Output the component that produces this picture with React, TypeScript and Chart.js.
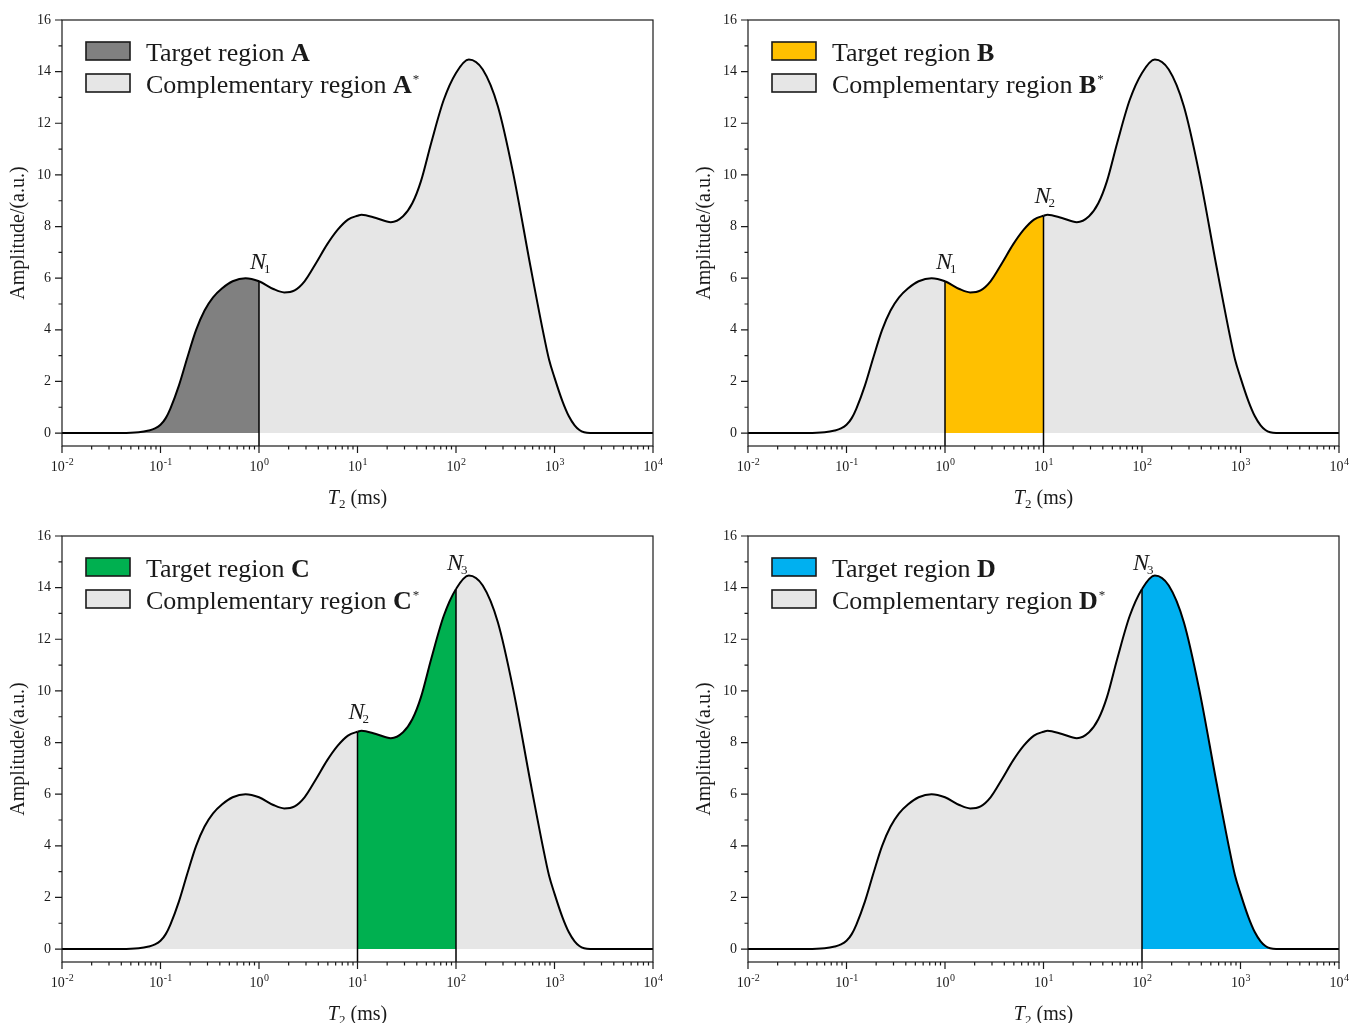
import React, { useEffect, useRef } from 'react';
import { Chart, registerables } from 'chart.js';

Chart.register(...registerables);

// ---- data ----
const T2 = [0.01, 0.04, 0.06, 0.076, 0.088, 0.1, 0.113, 0.126, 0.154, 0.188, 0.23, 0.28, 0.34, 0.42, 0.54, 0.73, 1, 1.4, 1.8, 2.3, 2.9, 3.8, 4.9, 6.3, 8, 10, 11, 15.4, 21.8, 29, 36, 44, 56, 75, 100, 135, 187, 266, 380, 570, 770, 880, 1000, 1200, 1400, 1600, 1790, 2000, 2300, 3000, 10000];
const AMP = [0, 0, 0.03, 0.1, 0.18, 0.32, 0.58, 0.95, 1.85, 2.95, 4.0, 4.75, 5.25, 5.6, 5.88, 6.0, 5.88, 5.58, 5.45, 5.53, 5.88, 6.59, 7.3, 7.88, 8.27, 8.42, 8.46, 8.33, 8.17, 8.4, 8.9, 9.75, 11.24, 12.9, 13.95, 14.47, 14.08, 12.66, 10.08, 6.46, 3.88, 2.85, 2.15, 1.25, 0.65, 0.3, 0.12, 0.03, 0, 0, 0];

const Y_TICKS = [0, 2, 4, 6, 8, 10, 12, 14, 16];
const X_EXPONENTS = [-2, -1, 0, 1, 2, 3, 4];
const Y_MIN = -0.5;
const Y_MAX = 16;

const PANEL_LETTERS = ['A', 'B', 'C', 'D'];
const TARGET_COLORS = ['#808080', '#FFC000', '#00B050', '#00B0F0'];
const REGION_LOW = [0.01, 1, 10, 100];
const REGION_HIGH = [1, 10, 100, 10000];
const PANEL_CUTS = [[1], [1, 10], [10, 100], [100]];

const NODE_NAMES = ['1', '2', '3'];
const NODE_T2 = [1, 10, 100];
const NODE_LABEL_AMP = [6.36, 8.91, 14.69];
const PANEL_NODES = [[0], [0, 1], [1, 2], [2]];

const GREY = '#E6E6E6';
const INK = '#1a1a1a';
const SERIF = '"Liberation Serif", "Times New Roman", serif';

const PANEL_POS = [[0, 0], [686, 0], [0, 516], [686, 516]];

const decorPlugin = {
  id: 'decor',
  afterDraw(chart: any, _args: any, opts: any) {
    const { ctx, chartArea: ca } = chart;
    const x = chart.scales.x;
    const y = chart.scales.y;
    const idx: number = opts.idx;
    ctx.save();
    // frame
    ctx.strokeStyle = INK;
    ctx.lineWidth = 1.2;
    ctx.strokeRect(ca.left, ca.top, ca.right - ca.left, ca.bottom - ca.top);

    // y ticks (major every 2, minor every 1)
    ctx.beginPath();
    for (let v = 0; v <= Y_MAX; v++) {
      const py = y.getPixelForValue(v);
      const len = v % 2 === 0 ? 7 : 3.5;
      ctx.moveTo(ca.left - len, py);
      ctx.lineTo(ca.left, py);
    }
    // x ticks
    X_EXPONENTS.forEach((k, i) => {
      const px = x.getPixelForValue(Math.pow(10, k));
      ctx.moveTo(px, ca.bottom);
      ctx.lineTo(px, ca.bottom + 7);
      if (i < X_EXPONENTS.length - 1) {
        for (let m = 2; m <= 9; m++) {
          const pm = x.getPixelForValue(m * Math.pow(10, k));
          ctx.moveTo(pm, ca.bottom);
          ctx.lineTo(pm, ca.bottom + 3.5);
        }
      }
    });
    ctx.stroke();

    // x tick labels 10^k
    ctx.fillStyle = INK;
    ctx.textBaseline = 'alphabetic';
    ctx.textAlign = 'left';
    X_EXPONENTS.forEach((k) => {
      const px = x.getPixelForValue(Math.pow(10, k));
      ctx.font = `14px ${SERIF}`;
      const w1 = ctx.measureText('10').width;
      const ex = k < 0 ? '-' + Math.abs(k) : String(k);
      ctx.font = `10px ${SERIF}`;
      const w2 = ctx.measureText(ex).width;
      const start = px - (w1 + w2) / 2;
      ctx.font = `14px ${SERIF}`;
      ctx.fillText('10', start, ca.bottom + 25);
      ctx.font = `10px ${SERIF}`;
      ctx.fillText(ex, start + w1 + 0.5, ca.bottom + 19);
    });

    // x title: T2 (ms)
    {
      ctx.font = `italic 20px ${SERIF}`;
      const wT = ctx.measureText('T').width;
      ctx.font = `13px ${SERIF}`;
      const w2 = ctx.measureText('2').width;
      ctx.font = `20px ${SERIF}`;
      const wR = ctx.measureText(' (ms)').width;
      const cx = (ca.left + ca.right) / 2;
      let sx = cx - (wT + w2 + wR) / 2;
      const base = ca.bottom + 58;
      ctx.font = `italic 20px ${SERIF}`;
      ctx.fillText('T', sx, base);
      sx += wT;
      ctx.font = `13px ${SERIF}`;
      ctx.fillText('2', sx, base + 4);
      sx += w2;
      ctx.font = `20px ${SERIF}`;
      ctx.fillText(' (ms)', sx, base);
    }

    // y title
    ctx.save();
    ctx.translate(19, (ca.top + ca.bottom) / 2);
    ctx.rotate(-Math.PI / 2);
    ctx.textAlign = 'center';
    ctx.textBaseline = 'middle';
    ctx.font = `20px ${SERIF}`;
    ctx.fillText('Amplitude/(a.u.)', 0, 0);
    ctx.restore();

    // legend
    const letter = PANEL_LETTERS[idx];
    const boxes = [
      { top: 42, fill: TARGET_COLORS[idx], text: 'Target region ', star: false, base: 61 },
      { top: 74, fill: GREY, text: 'Complementary region ', star: true, base: 93 },
    ];
    boxes.forEach((b) => {
      ctx.fillStyle = b.fill;
      ctx.fillRect(86, b.top, 44, 18);
      ctx.strokeStyle = INK;
      ctx.lineWidth = 1.6;
      ctx.strokeRect(86, b.top, 44, 18);
      ctx.fillStyle = INK;
      ctx.textAlign = 'left';
      ctx.textBaseline = 'alphabetic';
      ctx.font = `26px ${SERIF}`;
      ctx.fillText(b.text, 146, b.base);
      const w = ctx.measureText(b.text).width;
      ctx.font = `bold 26px ${SERIF}`;
      ctx.fillText(letter, 146 + w, b.base);
      const wl = ctx.measureText(letter).width;
      if (b.star) {
        ctx.font = `13px ${SERIF}`;
        ctx.fillText('*', 146 + w + wl + 1, b.base - 10);
      }
    });

    // node labels N_i
    PANEL_NODES[idx].forEach((n) => {
      const px = x.getPixelForValue(NODE_T2[n]) - 1;
      const py = y.getPixelForValue(NODE_LABEL_AMP[n]);
      ctx.font = `italic 24px ${SERIF}`;
      ctx.textAlign = 'center';
      ctx.fillText('N', px, py);
      const wN = ctx.measureText('N').width;
      ctx.textAlign = 'left';
      ctx.font = `13px ${SERIF}`;
      ctx.fillText(NODE_NAMES[n], px + wN / 2 - 2, py + 4);
    });

    ctx.restore();
  },
};

function Panel({ idx }: { idx: number }) {
  const ref = useRef<HTMLCanvasElement>(null);
  const [left, top] = PANEL_POS[idx];
  const W = left === 0 ? 686 : 665;
  const H = top === 0 ? 516 : 507;

  useEffect(() => {
    if (!ref.current) return;
    const lo = REGION_LOW[idx];
    const hi = REGION_HIGH[idx];
    const color = TARGET_COLORS[idx];
    const curve = T2.map((t, i) => ({ x: t, y: AMP[i] }));
    const datasets: any[] = [
      {
        data: curve,
        borderColor: '#000',
        borderWidth: 2,
        pointRadius: 0,
        cubicInterpolationMode: 'monotone',
        fill: 'origin',
        backgroundColor: GREY,
        segment: {
          backgroundColor: (c: any) =>
            T2[c.p0DataIndex] >= lo && T2[c.p1DataIndex] <= hi ? color : GREY,
        },
        order: 1,
      },
    ];
    PANEL_CUTS[idx].forEach((c) => {
      datasets.push({
        data: [
          { x: c, y: AMP[T2.indexOf(c)] },
          { x: c, y: Y_MIN },
        ],
        borderColor: '#000',
        borderWidth: 1.5,
        pointRadius: 0,
        fill: false,
        order: 0,
      });
    });

    const chart = new Chart(ref.current, {
      type: 'line',
      data: { datasets },
      options: {
        animation: false,
        responsive: false,
        events: [],
        layout: { padding: { left: 0, top: 20, right: W - 653, bottom: 0 } },
        plugins: {
          legend: { display: false },
          tooltip: { enabled: false },
          filler: { drawTime: 'beforeDatasetsDraw' },
          decor: { idx },
        } as any,
        scales: {
          x: {
            type: 'logarithmic',
            min: 0.01,
            max: 10000,
            grid: { display: false, drawTicks: false },
            border: { display: false },
            ticks: { display: false },
            afterFit: (s: any) => {
              s.height = H - 446;
            },
          },
          y: {
            type: 'linear',
            min: Y_MIN,
            max: Y_MAX,
            grid: { display: false, drawTicks: false },
            border: { display: false },
            afterBuildTicks: (s: any) => {
              s.ticks = Y_TICKS.map((v) => ({ value: v }));
            },
            ticks: {
              color: INK,
              padding: 11,
              font: { family: 'Liberation Serif', size: 14 },
            },
            afterFit: (s: any) => {
              s.width = 62;
            },
          },
        },
      } as any,
      plugins: [decorPlugin],
    });
    return () => chart.destroy();
  }, [idx]);

  return (
    <canvas
      ref={ref}
      width={W}
      height={H}
      style={{ position: 'absolute', left, top, width: W, height: H, display: 'block' }}
    />
  );
}

export default function App() {
  return (
    <div style={{ position: 'absolute', left: 0, top: 0, width: 1351, height: 1023, background: '#fff', overflow: 'hidden' }}>
      {[0, 1, 2, 3].map((i) => (
        <Panel key={i} idx={i} />
      ))}
    </div>
  );
}
